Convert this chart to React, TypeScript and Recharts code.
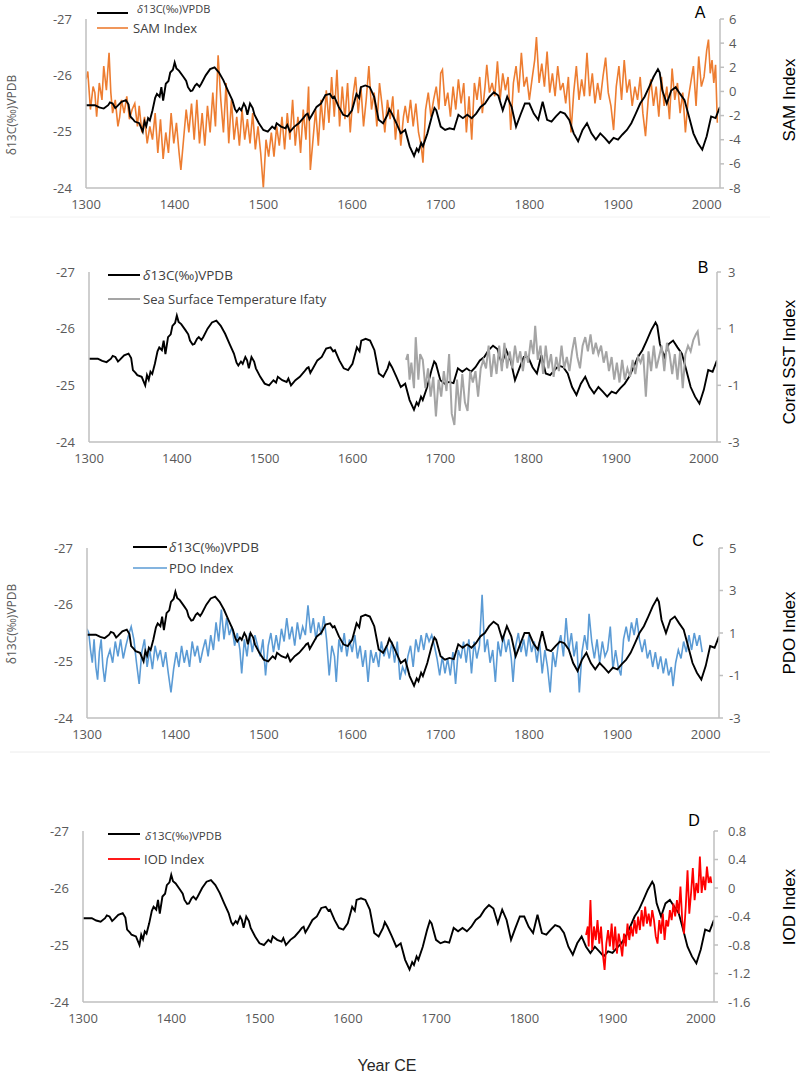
import React from 'react';
import { LineChart, Line, XAxis, YAxis } from 'recharts';

type Pt = [number, number];
type Row = { year: number; value: number };

const FONT = '"Open Sans", "Noto Sans", sans-serif';
const TITLE_FONT = '"Liberation Sans", Arial, sans-serif';
const AXIS_GREY = '#bfbfbf';
const TICK_GREY = '#595959';

const yearTicks = [1300, 1400, 1500, 1600, 1700, 1800, 1900, 2000];
const d13cTicks = [-27, -26, -25, -24];
const samTicks = [6, 4, 2, 0, -2, -4, -6, -8];
const sstTicks = [3, 1, -1, -3];
const pdoTicks = [5, 3, 1, -1, -3];
const iodTicks = [0.8, 0.4, 0, -0.4, -0.8, -1.2, -1.6];

// tree-ring carbon isotope record, shared by all four panels
const d13c: Pt[] = [
  [1300, -25.47], [1305, -25.47], [1310, -25.47], [1315, -25.43], [1320, -25.41], [1325, -25.47],
  [1327, -25.52], [1330, -25.5], [1333, -25.42], [1335, -25.45], [1340, -25.53], [1345, -25.56],
  [1348, -25.48], [1350, -25.27], [1353, -25.22], [1355, -25.18], [1360, -25.15], [1364, -25.0],
  [1366, -25.18], [1368, -25.1], [1370, -25.24], [1372, -25.2], [1375, -25.38], [1378, -25.6],
  [1380, -25.67], [1383, -25.62], [1385, -25.79], [1387, -25.55], [1390, -25.85], [1393, -25.9],
  [1395, -26.05], [1398, -26.1], [1400, -26.23], [1402, -26.12], [1405, -26.08], [1410, -25.97],
  [1413, -25.9], [1415, -25.79], [1418, -25.72], [1420, -25.73], [1423, -25.82], [1425, -25.85],
  [1428, -25.8], [1430, -25.85], [1435, -26.0], [1440, -26.11], [1445, -26.14], [1450, -26.05],
  [1455, -25.91], [1460, -25.73], [1465, -25.56], [1468, -25.4], [1470, -25.35], [1473, -25.42],
  [1475, -25.38], [1478, -25.5], [1480, -25.44], [1482, -25.3], [1485, -25.5], [1488, -25.42],
  [1490, -25.3], [1495, -25.15], [1500, -25.03], [1505, -25.0], [1510, -25.09], [1513, -25.05],
  [1515, -25.15], [1520, -25.09], [1525, -25.06], [1527, -25.12], [1530, -25.0], [1535, -25.09],
  [1540, -25.15], [1545, -25.24], [1548, -25.3], [1550, -25.32], [1552, -25.22], [1555, -25.3],
  [1560, -25.44], [1565, -25.5], [1570, -25.65], [1575, -25.67], [1578, -25.6], [1580, -25.62],
  [1585, -25.44], [1590, -25.3], [1595, -25.27], [1600, -25.38], [1605, -25.67], [1608, -25.6],
  [1610, -25.79], [1615, -25.82], [1620, -25.79], [1625, -25.62], [1630, -25.21], [1635, -25.15],
  [1640, -25.3], [1642, -25.4], [1645, -25.32], [1650, -25.15], [1655, -24.97], [1660, -25.03],
  [1665, -24.74], [1670, -24.57], [1673, -24.7], [1675, -24.65], [1678, -24.8], [1680, -24.74],
  [1685, -24.97], [1690, -25.27], [1693, -25.42], [1695, -25.38], [1700, -25.09], [1705, -25.03],
  [1710, -25.06], [1715, -25.04], [1720, -25.3], [1725, -25.24], [1730, -25.3], [1735, -25.24],
  [1740, -25.32], [1745, -25.44], [1750, -25.5], [1755, -25.62], [1760, -25.7], [1765, -25.64],
  [1770, -25.38], [1775, -25.62], [1780, -25.44], [1785, -25.09], [1790, -25.3], [1795, -25.5],
  [1800, -25.5], [1805, -25.32], [1810, -25.21], [1815, -25.53], [1820, -25.21], [1825, -25.18],
  [1830, -25.27], [1835, -25.35], [1840, -25.32], [1845, -25.21], [1850, -24.97], [1855, -24.83],
  [1860, -25.03], [1865, -25.15], [1870, -24.97], [1875, -24.86], [1880, -24.97], [1885, -24.89],
  [1890, -24.8], [1895, -24.89], [1900, -24.86], [1905, -24.95], [1910, -25.03], [1915, -25.15],
  [1920, -25.32], [1925, -25.5], [1930, -25.62], [1935, -25.79], [1940, -25.97], [1945, -26.11],
  [1947, -26.05], [1950, -25.73], [1955, -25.5], [1960, -25.73], [1965, -25.79], [1970, -25.67],
  [1975, -25.56], [1980, -25.27], [1985, -24.97], [1990, -24.8], [1995, -24.68], [2000, -24.92],
  [2005, -25.27], [2010, -25.24], [2015, -25.44],
];

const sam: Pt[] = [
  [1300, 1.0], [1302, 1.65], [1305, -1.5], [1308, 0.4], [1310, -0.1], [1312, -2.1], [1315, 0.7],
  [1318, -0.7], [1320, 2.1], [1323, 0.1], [1326, 3.2], [1328, -0.1], [1330, -1.8], [1333, -0.7],
  [1336, -2.9], [1338, -2.1], [1340, -0.7], [1343, -1.8], [1346, -0.4], [1349, -2.3], [1352, -1.5],
  [1355, -1.0], [1358, -2.9], [1360, -1.2], [1363, -3.4], [1366, -2.1], [1369, -4.3], [1372, -2.9],
  [1375, -4.0], [1378, -1.8], [1381, -5.1], [1384, -2.3], [1387, -5.6], [1390, -3.4], [1393, -5.1],
  [1396, -1.8], [1399, -4.3], [1402, -2.6], [1405, -5.1], [1407, -6.5], [1410, -4.0], [1413, -1.5],
  [1416, -3.4], [1419, -1.0], [1422, -4.0], [1425, -0.7], [1428, -4.3], [1431, -1.8], [1434, -4.5],
  [1437, -1.2], [1440, -3.4], [1443, -0.1], [1446, -2.9], [1449, 3.0], [1452, -0.7], [1455, -3.4],
  [1458, 0.7], [1461, -4.3], [1464, -0.7], [1467, -4.0], [1470, -2.1], [1473, -4.5], [1476, -1.5],
  [1479, -4.0], [1482, -2.3], [1485, -4.3], [1488, -1.8], [1491, -4.8], [1494, -2.9], [1497, -5.1],
  [1500, -8.0], [1503, -4.0], [1506, -5.4], [1509, -3.4], [1512, -5.4], [1515, -2.9], [1518, -4.5],
  [1521, -2.1], [1524, -4.8], [1527, -1.8], [1530, -4.0], [1533, -0.7], [1536, -4.5], [1539, -2.1],
  [1542, -5.1], [1545, -1.5], [1548, -4.0], [1551, 0.4], [1553, -6.5], [1556, -4.0], [1559, -1.5],
  [1562, -4.5], [1565, -0.7], [1568, -3.2], [1571, 0.1], [1574, -2.6], [1577, 1.2], [1580, -2.1],
  [1583, 1.8], [1586, -2.9], [1589, 0.4], [1592, -2.3], [1595, 0.7], [1598, -3.4], [1601, -0.4],
  [1604, 1.2], [1607, -1.8], [1610, 0.4], [1613, -2.9], [1616, -0.7], [1619, 2.1], [1622, -1.5],
  [1625, -0.1], [1628, -2.9], [1631, 0.7], [1634, -1.2], [1637, -3.4], [1640, -0.7], [1643, -2.3],
  [1646, -0.4], [1649, -4.0], [1652, -1.5], [1655, -4.5], [1658, -2.1], [1660, -1.2], [1663, -2.6],
  [1666, -0.7], [1669, -2.9], [1672, -1.0], [1675, -3.4], [1678, -4.5], [1680, -5.9], [1683, -1.5],
  [1686, -0.1], [1689, -2.1], [1692, -0.7], [1695, 0.4], [1698, -1.5], [1700, 1.5], [1702, 1.8],
  [1705, -1.2], [1708, -0.1], [1711, -2.1], [1714, 0.4], [1717, -1.5], [1720, 1.0], [1723, -1.0],
  [1726, 0.7], [1729, -3.4], [1732, -0.4], [1735, -4.0], [1738, 0.7], [1741, -0.7], [1744, 1.2],
  [1747, -1.8], [1750, 0.4], [1752, 2.2], [1755, -0.1], [1758, 0.7], [1761, -0.4], [1764, 2.5],
  [1767, -0.7], [1770, 1.5], [1773, 0.1], [1776, 1.2], [1779, -3.2], [1782, 0.7], [1785, 2.1],
  [1788, -0.1], [1791, 3.2], [1794, 0.4], [1797, 1.2], [1800, -0.7], [1803, 1.0], [1806, 2.6],
  [1808, 4.5], [1811, 0.7], [1814, 2.3], [1817, 0.4], [1820, 3.3], [1823, -0.1], [1826, 1.5],
  [1829, -0.4], [1832, 2.1], [1835, 0.1], [1838, 0.7], [1841, -1.0], [1844, 1.2], [1847, -3.4],
  [1850, -0.1], [1853, 2.1], [1856, -0.7], [1859, 1.0], [1862, -0.4], [1865, 3.2], [1868, -0.4],
  [1871, 1.5], [1874, -1.0], [1877, 0.7], [1880, -0.7], [1883, 1.2], [1886, 2.8], [1889, -0.1],
  [1892, -1.2], [1895, -3.2], [1898, 0.4], [1901, 2.1], [1904, -0.7], [1907, 2.6], [1910, -0.1],
  [1913, 1.0], [1916, -1.2], [1919, 0.4], [1922, -0.7], [1925, 1.2], [1928, -1.8], [1931, -3.7],
  [1934, -0.7], [1937, 1.0], [1940, -1.2], [1943, 0.4], [1946, -2.1], [1949, 1.2], [1952, -1.2],
  [1955, 0.4], [1958, -2.3], [1961, 1.9], [1964, -0.7], [1967, 0.7], [1970, -1.8], [1973, -0.1],
  [1976, -3.4], [1979, -0.7], [1982, 0.7], [1985, 2.1], [1988, -1.2], [1991, 2.9], [1994, 0.4],
  [1997, 1.2], [2000, 3.4], [2002, 4.3], [2004, 1.5], [2006, 2.6], [2008, 0.7], [2010, 2.2],
  [2012, -2.6],
];

const sst: Pt[] = [
  [1661, -0.1], [1663, 0.1], [1665, -0.8], [1667, -0.2], [1670, -1.1], [1672, 0.7], [1675, -0.8],
  [1677, 0.1], [1680, -0.1], [1683, -1.1], [1686, -0.4], [1689, -1.4], [1692, -0.7], [1695, -2.1],
  [1698, -0.8], [1701, -1.4], [1704, -0.5], [1707, -1.2], [1710, 0.1], [1713, -2.0], [1716, -2.4],
  [1719, -0.8], [1722, -1.9], [1725, -0.6], [1728, -1.6], [1731, -1.9], [1734, -0.5], [1737, -0.9],
  [1740, -0.5], [1743, -1.4], [1746, -0.4], [1749, -0.1], [1752, -0.4], [1755, 0.4], [1758, -0.7],
  [1761, 0.1], [1764, -0.6], [1767, 0.4], [1770, -0.5], [1773, 0.5], [1776, -0.4], [1779, 0.2],
  [1782, -0.4], [1785, 0.4], [1788, -0.2], [1791, 0.2], [1794, -0.5], [1797, 0.2], [1800, -0.2],
  [1803, 0.6], [1806, 0.1], [1808, 1.1], [1811, -0.1], [1814, 0.4], [1817, -0.6], [1820, 0.4],
  [1823, -0.4], [1826, 0.1], [1829, -0.7], [1832, 0.0], [1835, -0.5], [1838, 0.4], [1841, -0.4],
  [1844, 0.0], [1847, -0.5], [1850, 0.2], [1853, 0.7], [1856, 0.0], [1859, -0.4], [1862, 0.4],
  [1865, 0.7], [1868, 0.2], [1871, 0.8], [1874, 0.1], [1877, 0.5], [1880, 0.1], [1883, 0.4],
  [1886, -0.2], [1889, 0.2], [1892, -0.5], [1895, 0.0], [1898, -0.8], [1901, -0.2], [1904, -0.9],
  [1907, -0.1], [1910, -0.8], [1913, -0.4], [1916, -0.7], [1919, -0.1], [1922, -0.6], [1925, 0.0],
  [1928, -0.2], [1931, 0.1], [1934, -1.4], [1937, 0.2], [1940, -0.5], [1943, 0.4], [1946, -0.4],
  [1949, 0.0], [1952, 0.4], [1955, -0.5], [1958, 0.5], [1961, 0.1], [1964, -0.6], [1967, 0.1],
  [1970, -0.8], [1973, 0.2], [1976, -1.1], [1979, 0.1], [1982, 0.4], [1985, 0.2], [1988, 0.6],
  [1991, 0.8], [1993, 0.9], [1995, 0.4],
];

const pdo: Pt[] = [
  [1300, 1.2], [1302, 1.0], [1304, 0.2], [1306, -0.4], [1308, 0.7], [1310, -0.6], [1312, -1.2],
  [1314, 0.1], [1316, 0.7], [1318, -0.6], [1320, -1.3], [1323, -0.2], [1326, 0.2], [1329, -0.4],
  [1332, 0.6], [1335, -0.1], [1338, 0.7], [1341, -0.2], [1344, 0.4], [1347, 0.9], [1350, 1.3],
  [1353, 0.7], [1356, -0.4], [1359, -1.4], [1362, 0.1], [1365, 0.7], [1368, -0.6], [1371, 0.2],
  [1374, -0.7], [1377, 0.4], [1380, -0.2], [1383, 0.2], [1386, -0.6], [1389, 0.1], [1392, -0.9],
  [1395, -1.8], [1398, -0.7], [1401, 0.1], [1404, -0.6], [1407, 0.4], [1410, -0.4], [1413, 0.2],
  [1416, -0.6], [1419, 0.6], [1422, -0.1], [1425, 0.4], [1428, -0.4], [1431, 0.2], [1434, 0.7],
  [1437, -0.1], [1440, 0.9], [1443, 0.2], [1446, 1.5], [1449, 0.6], [1452, 2.1], [1455, 0.7],
  [1458, 1.7], [1461, 0.9], [1464, 1.3], [1467, 0.4], [1470, 1.0], [1473, 0.2], [1475, -0.9],
  [1478, 0.7], [1481, -0.1], [1484, 1.0], [1487, 0.1], [1490, 0.9], [1493, 0.4], [1496, -0.1],
  [1499, 0.7], [1502, -1.0], [1505, 0.4], [1508, 1.0], [1511, 0.1], [1514, 0.9], [1517, 0.2],
  [1520, 1.2], [1523, 0.6], [1526, 1.7], [1529, 0.7], [1532, 1.3], [1535, 0.4], [1538, 1.5],
  [1541, 0.7], [1544, 1.3], [1547, 0.9], [1550, 2.3], [1553, 1.0], [1556, 1.7], [1559, 0.7],
  [1562, 1.5], [1565, 0.9], [1568, 1.8], [1571, 0.7], [1574, -1.0], [1577, 0.4], [1580, -0.1],
  [1582, -1.3], [1585, 0.7], [1588, 0.1], [1591, 1.0], [1594, -0.1], [1597, 0.7], [1600, 0.1],
  [1603, 0.9], [1606, -0.2], [1609, 0.4], [1612, -0.6], [1615, 0.2], [1618, -1.3], [1621, 0.2],
  [1624, -0.4], [1627, 0.1], [1630, -0.6], [1633, 0.6], [1636, -0.1], [1639, 0.4], [1642, -0.2],
  [1645, 0.6], [1648, -0.4], [1651, 0.6], [1654, -1.2], [1657, -0.6], [1660, -0.9], [1663, -0.1],
  [1666, 0.4], [1669, -0.6], [1672, 0.7], [1675, 0.1], [1678, 0.9], [1681, 0.2], [1684, 1.0],
  [1687, 0.6], [1690, 0.9], [1693, 0.4], [1696, -0.2], [1699, -1.0], [1702, -0.1], [1705, -0.9],
  [1708, -0.2], [1711, -1.0], [1714, 0.1], [1717, -1.4], [1720, 0.2], [1723, -0.2], [1726, 0.6],
  [1729, -0.4], [1732, 0.7], [1735, -0.9], [1738, 0.6], [1741, -0.2], [1744, 0.4], [1747, 2.8],
  [1750, 0.1], [1753, 0.7], [1756, -0.4], [1759, 0.2], [1762, -1.3], [1765, 0.6], [1768, -0.1],
  [1771, 0.9], [1774, 0.1], [1777, 0.7], [1780, -0.2], [1782, -1.3], [1785, 0.4], [1788, 1.0],
  [1791, 0.1], [1794, 0.7], [1797, -0.1], [1800, 0.9], [1803, 0.1], [1806, 0.6], [1809, -0.4],
  [1812, 0.6], [1815, -0.9], [1818, 0.2], [1821, -0.6], [1824, -1.8], [1827, 0.1], [1830, -0.6],
  [1833, 0.4], [1836, 0.9], [1839, -0.1], [1842, 1.7], [1845, 0.2], [1848, 1.0], [1851, -0.1],
  [1854, 0.6], [1857, -1.8], [1860, 0.1], [1863, 0.9], [1866, 0.2], [1868, 1.9], [1871, 0.6],
  [1874, -0.2], [1877, 0.7], [1880, -0.4], [1883, 0.6], [1886, -0.1], [1889, 0.2], [1892, 1.3],
  [1895, -0.7], [1898, 0.2], [1901, -0.6], [1904, -1.0], [1907, 0.7], [1910, 1.3], [1913, 0.6],
  [1916, 1.5], [1919, 0.9], [1922, 1.7], [1925, 0.7], [1928, 0.1], [1931, 0.7], [1934, -0.2],
  [1937, 0.2], [1940, -0.6], [1943, 0.1], [1946, -0.7], [1949, -0.1], [1952, -0.9], [1955, -0.2],
  [1958, -1.0], [1961, -0.6], [1963, -1.5], [1966, -0.4], [1969, 0.2], [1972, -0.2], [1975, 0.6],
  [1978, 0.1], [1981, 0.9], [1984, 0.2], [1987, 1.0], [1990, 0.4], [1993, 0.9], [1996, 0.1],
];

const iod: Pt[] = [
  [1870, -0.66], [1872, -0.54], [1873, -0.82], [1875, -0.17], [1877, -0.87], [1879, -0.54],
  [1881, -0.73], [1883, -0.45], [1885, -0.78], [1887, -0.54], [1889, -0.92], [1891, -1.15],
  [1893, -0.78], [1895, -0.59], [1897, -0.82], [1899, -0.5], [1901, -0.87], [1903, -0.54],
  [1905, -0.92], [1907, -0.64], [1909, -0.78], [1911, -0.96], [1913, -0.64], [1915, -0.82],
  [1917, -0.5], [1919, -0.73], [1921, -0.54], [1923, -0.68], [1925, -0.45], [1927, -0.64],
  [1929, -0.4], [1931, -0.59], [1933, -0.31], [1935, -0.54], [1937, -0.26], [1939, -0.5],
  [1941, -0.36], [1943, -0.54], [1945, -0.31], [1947, -0.45], [1949, -0.68], [1951, -0.78],
  [1953, -0.45], [1955, -0.64], [1957, -0.36], [1959, -0.73], [1961, -0.45], [1963, -0.54],
  [1965, -0.31], [1967, -0.45], [1969, -0.22], [1971, -0.4], [1973, -0.17], [1975, -0.36],
  [1977, 0.02], [1979, -0.45], [1981, -0.64], [1983, -0.26], [1985, 0.25], [1987, -0.36],
  [1989, -0.07], [1991, 0.28], [1993, -0.17], [1995, 0.07], [1997, -0.07], [1999, 0.44],
  [2001, -0.07], [2003, 0.16], [2005, -0.03], [2007, 0.3], [2009, 0.07], [2011, 0.16], [2012, 0.07],
];

const toRows = (pts: Pt[]): Row[] => pts.map(([year, value]) => ({ year, value }));
const d13cRows = toRows(d13c);

interface LegendSpec {
  lineX: [number, number];
  d13cY: number;
  d13cTextX: number;
  d13cTextY: number;
  d13cSize: number;
  indexY: number;
  indexTextX: number;
  indexSize: number;
}

interface PanelSpec {
  letter: string;
  letterPos: [number, number];
  top: number;
  left: number;
  right: number;
  height: number;
  indexName: string;
  indexTitle: string;
  titleY: number;
  color: string;
  strokeWidth: number;
  rows: Row[];
  domain: [number, number];
  ticks: number[];
  tickGap: number;
  indexOnTop: boolean;
  leftTitleY?: number;
  legend: LegendSpec;
}

const panels: PanelSpec[] = [
  {
    letter: 'A', letterPos: [700, 12], top: 19, left: 86, right: 720, height: 169,
    indexName: 'SAM Index', indexTitle: 'SAM Index', titleY: 100,
    color: '#ed7d31', strokeWidth: 1.6, rows: toRows(sam), domain: [-8, 6], ticks: samTicks,
    tickGap: 5, indexOnTop: false, leftTitleY: 115,
    legend: { lineX: [97, 128], d13cY: 13, d13cTextX: 137, d13cTextY: 8, d13cSize: 11, indexY: 28, indexTextX: 133, indexSize: 13 },
  },
  {
    letter: 'B', letterPos: [703, 267], top: 272, left: 89, right: 717, height: 170,
    indexName: 'Sea Surface Temperature Ifaty', indexTitle: 'Coral SST Index', titleY: 362,
    color: '#a5a5a5', strokeWidth: 2, rows: toRows(sst), domain: [-3, 3], ticks: sstTicks,
    tickGap: 7, indexOnTop: true,
    legend: { lineX: [108, 140], d13cY: 275, d13cTextX: 143, d13cTextY: 275, d13cSize: 13.5, indexY: 299, indexTextX: 143, indexSize: 13 },
  },
  {
    letter: 'C', letterPos: [698, 540], top: 548, left: 87, right: 719, height: 170,
    indexName: 'PDO Index', indexTitle: 'PDO Index', titleY: 633,
    color: '#5b9bd5', strokeWidth: 1.6, rows: toRows(pdo), domain: [-3, 5], ticks: pdoTicks,
    tickGap: 6, indexOnTop: false, leftTitleY: 624,
    legend: { lineX: [133, 167], d13cY: 547, d13cTextX: 169, d13cTextY: 547, d13cSize: 13.5, indexY: 568, indexTextX: 169, indexSize: 13 },
  },
  {
    letter: 'D', letterPos: [694, 820], top: 831, left: 83, right: 714, height: 171,
    indexName: 'IOD Index', indexTitle: 'IOD Index', titleY: 907,
    color: '#ff0000', strokeWidth: 1.8, rows: toRows(iod), domain: [-1.6, 0.8], ticks: iodTicks,
    tickGap: 10, indexOnTop: true,
    legend: { lineX: [108, 140], d13cY: 834, d13cTextX: 145, d13cTextY: 835, d13cSize: 11.5, indexY: 859, indexTextX: 144, indexSize: 13 },
  },
];

const LEFT_AXIS_W = 50;
const RIGHT_AXIS_W = 60;
const X_AXIS_H = 30;
const PAD_TOP = 10;

const tickStyle = { fill: TICK_GREY, fontSize: 13, fontFamily: FONT };

function Panel({ p }: { p: PanelSpec }) {
  const indexLine = (
    <Line
      key="index"
      yAxisId="idx"
      data={p.rows}
      dataKey="value"
      name={p.indexName}
      type="linear"
      stroke={p.color}
      strokeWidth={p.strokeWidth}
      dot={false}
      isAnimationActive={false}
    />
  );
  const d13cLine = (
    <Line
      key="d13c"
      yAxisId="d13c"
      data={d13cRows}
      dataKey="value"
      name="δ13C(‰)VPDB"
      type="linear"
      stroke="#000000"
      strokeWidth={1.9}
      dot={false}
      isAnimationActive={false}
    />
  );
  return (
    <div style={{ position: 'absolute', left: 0, top: p.top - PAD_TOP }}>
      <LineChart
        width={800}
        height={PAD_TOP + p.height + X_AXIS_H}
        margin={{ top: PAD_TOP, bottom: 0, left: p.left - LEFT_AXIS_W, right: 800 - p.right - RIGHT_AXIS_W }}
      >
        <XAxis
          dataKey="year"
          type="number"
          domain={[1300, 2015]}
          ticks={yearTicks}
          interval={0}
          allowDataOverflow
          height={X_AXIS_H}
          axisLine={{ stroke: AXIS_GREY, strokeWidth: 1.5 }}
          tickLine={false}
          tickSize={6}
          tickMargin={6}
          tick={tickStyle}
        />
        <YAxis
          yAxisId="d13c"
          orientation="left"
          reversed
          domain={[-27, -24]}
          ticks={d13cTicks}
          interval={0}
          allowDataOverflow
          width={LEFT_AXIS_W}
          axisLine={{ stroke: AXIS_GREY, strokeWidth: 1.5 }}
          tickLine={false}
          tickSize={6}
          tickMargin={8}
          tick={tickStyle}
        />
        <YAxis
          yAxisId="idx"
          orientation="right"
          domain={p.domain}
          ticks={p.ticks}
          interval={0}
          allowDataOverflow
          width={RIGHT_AXIS_W}
          axisLine={{ stroke: AXIS_GREY, strokeWidth: 1.5 }}
          tickLine={{ stroke: AXIS_GREY, strokeWidth: 1.5 }}
          tickSize={4}
          tickMargin={p.tickGap}
          tick={tickStyle}
        />
        {p.indexOnTop ? [d13cLine, indexLine] : [indexLine, d13cLine]}
      </LineChart>
    </div>
  );
}

// titles, panel letters and legend keys drawn over the four charts
function Annotations() {
  return (
    <svg width={800} height={1072} style={{ position: 'absolute', left: 0, top: 0, pointerEvents: 'none' }}>
      {panels.map((p) => (
        <g key={p.letter}>
          <text x={p.letterPos[0]} y={p.letterPos[1]} fontFamily={TITLE_FONT} fontSize={16} fill="#000" textAnchor="middle" dominantBaseline="central">
            {p.letter}
          </text>
          <text
            transform={`translate(789, ${p.titleY}) rotate(-90)`}
            fontFamily={TITLE_FONT}
            fontSize={17}
            fill="#000"
            textAnchor="middle"
            dominantBaseline="central"
          >
            {p.indexTitle}
          </text>
          {p.leftTitleY !== undefined && (
            <text
              transform={`translate(11, ${p.leftTitleY}) rotate(-90)`}
              fontFamily={FONT}
              fontSize={12}
              fill={TICK_GREY}
              textAnchor="middle"
              dominantBaseline="central"
            >
              δ13C(‰)VPDB
            </text>
          )}
          <line x1={p.legend.lineX[0]} x2={p.legend.lineX[1]} y1={p.legend.d13cY} y2={p.legend.d13cY} stroke="#000" strokeWidth={2} />
          <text x={p.legend.d13cTextX} y={p.legend.d13cTextY} fontFamily={FONT} fontSize={p.legend.d13cSize} fill="#404040" dominantBaseline="central">
            <tspan fontStyle="italic">δ</tspan>13C(‰)VPDB
          </text>
          <line x1={p.legend.lineX[0]} x2={p.legend.lineX[1]} y1={p.legend.indexY} y2={p.legend.indexY} stroke={p.color} strokeWidth={p.strokeWidth} />
          <text x={p.legend.indexTextX} y={p.legend.indexY} fontFamily={FONT} fontSize={p.legend.indexSize} fill="#404040" dominantBaseline="central">
            {p.indexName}
          </text>
        </g>
      ))}
      <line x1={10} x2={770} y1={217} y2={217} stroke="#f2f2f2" strokeWidth={1} />
      <line x1={10} x2={770} y1={752} y2={752} stroke="#ececec" strokeWidth={1} />
      <text x={387} y={1065} fontFamily={TITLE_FONT} fontSize={16} fill="#262626" textAnchor="middle" dominantBaseline="central">
        Year CE
      </text>
    </svg>
  );
}

export default function App() {
  return (
    <div style={{ position: 'absolute', left: 0, top: 0, width: 800, height: 1072, background: '#fff', overflow: 'hidden' }}>
      {panels.map((p) => (
        <Panel key={p.letter} p={p} />
      ))}
      <Annotations />
    </div>
  );
}
